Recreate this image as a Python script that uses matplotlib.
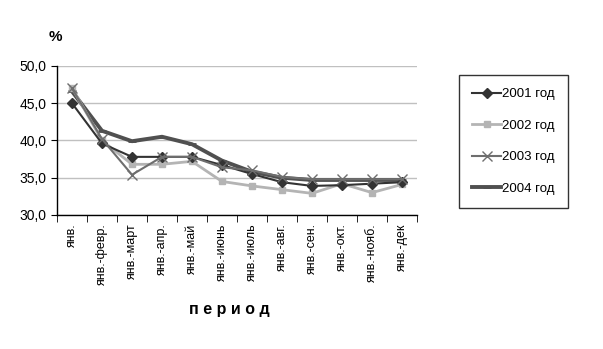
import numpy as np
import matplotlib
matplotlib.use("Agg")
import matplotlib.pyplot as plt

plt.rcParams['font.family'] = ['Liberation Sans', 'DejaVu Sans']

periods = ["янв.", "янв.-февр.", "янв.-март", "янв.-апр.", "янв.-май", "янв.-июнь",
           "янв.-июль", "янв.-авг.", "янв.-сен.", "янв.-окт.", "янв.-нояб.", "янв.-дек"]

y2001 = [45.0, 39.6, 37.8, 37.8, 37.8, 36.7, 35.5, 34.4, 33.9, 34.0, 34.2, 34.4]
y2002 = [47.1, 40.0, 36.8, 36.8, 37.2, 34.5, 33.9, 33.4, 32.9, 34.2, 33.0, 34.1]
y2003 = [47.0, 40.2, 35.4, 37.8, 37.8, 36.4, 36.0, 35.1, 34.8, 34.8, 34.8, 34.8]
y2004 = [46.6, 41.3, 39.9, 40.5, 39.5, 37.3, 35.8, 35.0, 34.7, 34.7, 34.7, 34.7]

yticks = [30, 35, 40, 45, 50]

fig = plt.figure(figsize=(6.03, 3.49), dpi=100)
ax = fig.add_axes([0.0945, 0.384, 0.597, 0.427])

x = np.arange(len(periods))
ax.plot(x, y2001, color="#333333", lw=1.5, marker="D", ms=5, label="2001 год", zorder=4)
ax.plot(x, y2002, color="#b4b4b4", lw=2.0, marker="s", ms=5, label="2002 год", zorder=3)
ax.plot(x, y2003, color="#6e6e6e", lw=1.5, marker="x", ms=7, mew=1.0, label="2003 год", zorder=5)
ax.plot(x, y2004, color="#505050", lw=2.8, marker="_", ms=6, mew=2, label="2004 год", zorder=2)

ax.set_xlim(-0.5, len(periods) - 0.5)
ax.set_ylim(30, 50)
ax.set_yticks(yticks)
ax.set_yticklabels([f"{v:.1f}".replace(".", ",") for v in yticks], fontsize=10)
ax.yaxis.grid(True, color="#c0c0c0", lw=1)
ax.set_axisbelow(True)

ax.set_xticks(x)
ax.set_xticklabels(periods, rotation=90, fontsize=9, va="top")
ax.set_xticks(np.arange(-0.5, len(periods)), minor=True)
ax.tick_params(axis="x", which="major", length=0, pad=6)
ax.tick_params(axis="x", which="minor", length=5, direction="out", color="black")
ax.tick_params(axis="y", length=4, direction="out", color="black")

for s in ["top", "right"]:
    ax.spines[s].set_visible(False)
for s in ["left", "bottom"]:
    ax.spines[s].set_color("black")
    ax.spines[s].set_linewidth(1)

fig.text(0.092, 0.895, "%", fontsize=11, fontweight="bold", ha="center", va="center")
fig.text(0.381, 0.112, "п е р и о д", fontsize=11.5, fontweight="bold", ha="center", va="center")

leg = fig.legend(loc="upper left", bbox_to_anchor=(0.761, 0.785), frameon=True,
                 fancybox=False, edgecolor="black", fontsize=9.5, handlelength=2.2,
                 handletextpad=0.05, labelspacing=1.45, borderpad=1.0, borderaxespad=0)
leg.get_frame().set_linewidth(1)

fig.savefig("out.png", dpi=100, facecolor="white")
